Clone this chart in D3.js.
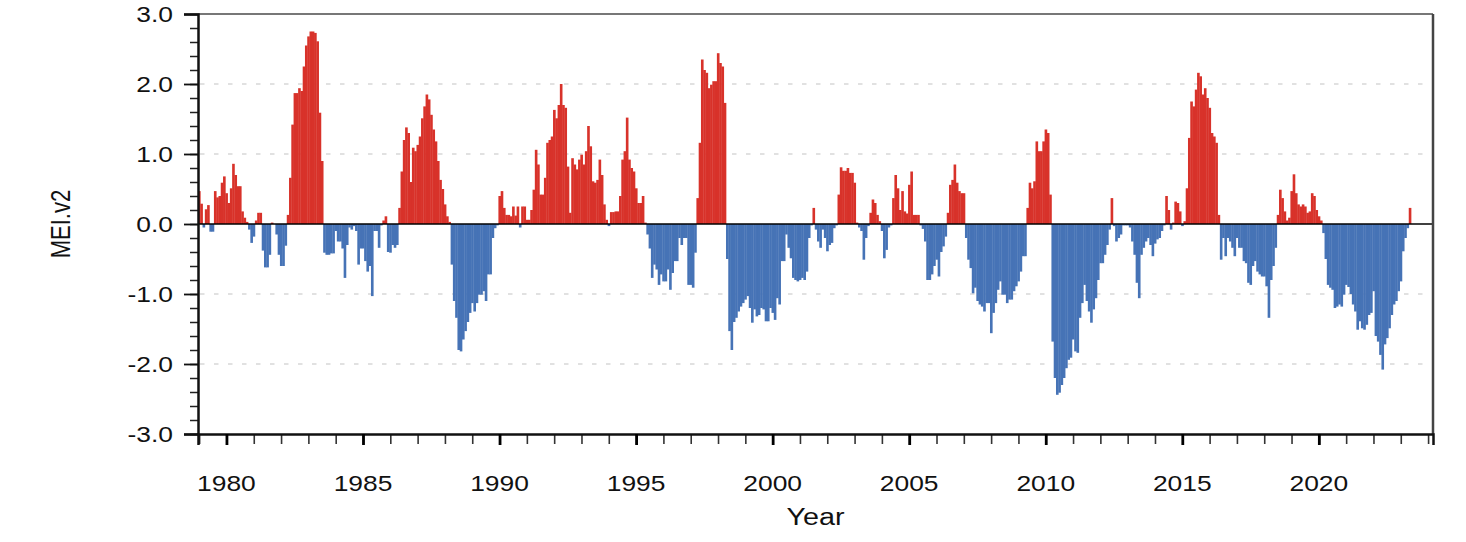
<!DOCTYPE html>
<html><head><meta charset="utf-8">
<script src="https://cdn.jsdelivr.net/npm/d3@7"></script>
<style>
body{margin:0;background:#fff;}
text{font-family:"Liberation Sans", Arial, Helvetica, sans-serif;}
</style>
</head><body>
<svg id="chart" width="1466" height="542"></svg>
<script>
// Monthly MEI.v2 values (bimonthly index, one value per month starting Jan 1979)
const startYear = 1979;
const mei1979to1988 = [
  0.47, 0.29,-0.05, 0.21, 0.27,-0.11,-0.11, 0.47, 0.38, 0.40, 0.59, 0.68,
  0.44, 0.30, 0.51, 0.86, 0.70, 0.54, 0.54, 0.18, 0.09, 0.03,-0.08,-0.27,
 -0.18, 0.05, 0.16, 0.16,-0.38,-0.62,-0.62,-0.44, 0.02, 0.00,-0.15,-0.44,
 -0.60,-0.60,-0.31, 0.13, 0.66, 1.42, 1.87, 1.87, 1.94, 1.90, 2.25, 2.55,
  2.68, 2.75, 2.75, 2.73, 2.61, 1.59, 0.90,-0.41,-0.44,-0.44,-0.42,-0.42,
 -0.10,-0.25,-0.25,-0.35,-0.77,-0.30,-0.05,-0.08,-0.03,-0.10,-0.58,-0.35,
 -0.35,-0.53,-0.68,-0.60,-1.03,-0.10,-0.10,-0.34,-0.02, 0.05, 0.11,-0.40,
 -0.41,-0.30,-0.34,-0.30, 0.23, 0.75, 1.20, 1.38, 1.30, 0.60, 1.09, 1.04,
  1.13, 1.25, 1.51, 1.68, 1.85, 1.78, 1.56, 1.35, 1.18, 0.90, 0.63, 0.50,
  0.28, 0.11, 0.03,-0.58,-1.10,-1.34,-1.80,-1.82,-1.65,-1.53,-1.40,-1.27
];
const mei1989to1998 = [
 -1.13,-1.25,-1.13,-1.01,-1.01,-0.96,-1.10,-0.72,-0.72,-0.20,-0.06,-0.02,
  0.40, 0.47, 0.23, 0.13, 0.13, 0.11, 0.25, 0.12, 0.25,-0.05, 0.25, 0.25,
  0.06, 0.06, 0.20, 0.49, 1.06, 0.85, 0.42, 0.42, 0.66, 1.16, 1.20, 1.25,
  1.63, 1.51, 1.70, 2.00, 1.70, 1.66, 0.82, 0.16, 0.94, 0.85, 0.78, 0.92,
  0.99, 0.85, 1.04, 1.40, 1.11, 0.61, 0.59, 0.63, 0.92, 0.70, 0.28, 0.06,
 -0.03, 0.17, 0.17, 0.18, 0.18, 0.40, 0.92, 1.04, 1.52, 0.92, 0.80, 0.75,
  0.51, 0.30, 0.30, 0.40, 0.02,-0.15,-0.35,-0.77,-0.58,-0.65,-0.87,-0.72,
 -0.82,-0.82,-0.65,-0.94,-0.70,-0.53,-0.53,-0.20,-0.30,-0.20,-0.20,-0.87,
 -0.87,-0.91,-0.41, 0.37, 1.16, 2.35, 2.20, 2.16, 1.94, 1.99, 2.04, 2.04,
  2.44, 2.30, 2.25, 1.73,-0.50,-1.53,-1.80,-1.40,-1.34,-1.25,-1.18,-1.13
];
const mei1999to2008 = [
 -1.08,-1.03,-1.20,-1.41,-1.22,-1.32,-1.30,-1.20,-1.22,-1.39,-1.39,-1.20,
 -1.27,-1.37,-1.06,-1.15,-0.53,-0.53,-0.15,-0.34,-0.49,-0.77,-0.80,-0.82,
 -0.80,-0.77,-0.80,-0.68,-0.20,-0.02, 0.23,-0.08,-0.25,-0.34,-0.08,-0.20,
 -0.39,-0.30,-0.27,-0.06,-0.02, 0.42, 0.81, 0.76, 0.76, 0.80, 0.73, 0.73,
  0.59, 0.02,-0.05,-0.10,-0.51,-0.20,-0.03, 0.16, 0.35, 0.30, 0.13, 0.04,
 -0.10,-0.49,-0.37,-0.05,-0.02, 0.37, 0.70, 0.51, 0.20, 0.47, 0.18, 0.15,
  0.56, 0.75, 0.13, 0.13, 0.13,-0.02,-0.07,-0.25,-0.80,-0.80,-0.72,-0.60,
 -0.51,-0.75,-0.40,-0.32,-0.18, 0.16, 0.56, 0.63, 0.85, 0.59, 0.47, 0.44,
  0.44,-0.20,-0.51,-0.63,-0.99,-0.91,-1.10,-1.15,-1.18,-1.25,-1.13,-1.13,
 -1.56,-1.27,-1.13,-0.94,-0.82,-1.01,-1.01,-1.13,-1.08,-1.08,-0.96,-0.89
];
const mei2009to2018 = [
 -0.82,-0.68,-0.46,-0.46, 0.23, 0.59, 0.51, 0.61, 1.18, 1.04, 1.04, 1.18,
  1.35, 1.30, 0.42,-1.68,-2.20,-2.44,-2.41,-2.30,-2.20,-2.06,-1.94,-1.91,
 -1.65,-1.82,-1.84,-1.34,-1.13,-0.87,-1.10,-1.25,-1.41,-1.22,-1.06,-0.80,
 -0.56,-0.56,-0.44,-0.30,-0.08, 0.37,-0.03,-0.25,-0.20,-0.15,-0.02,-0.02,
 -0.02,-0.05,-0.25,-0.44,-0.84,-1.06,-0.44,-0.34,-0.25,-0.20,-0.30,-0.46,
 -0.28,-0.22,-0.20,-0.10,-0.02, 0.40, 0.20,-0.08, 0.02, 0.32, 0.30, 0.18,
 -0.03, 0.04, 0.51, 1.23, 1.75, 1.68, 1.92, 2.16, 2.11, 1.85, 1.94, 1.80,
  1.66, 1.30, 1.25, 1.16, 0.13,-0.51,-0.20,-0.46,-0.20,-0.25,-0.34,-0.46,
 -0.20,-0.34,-0.34,-0.53,-0.56,-0.84,-0.87,-0.60,-0.53,-0.68,-0.72,-0.75,
 -0.75,-0.89,-1.34,-0.80,-0.60,-0.34, 0.13, 0.49, 0.37, 0.18, 0.05, 0.09
];
const mei2019to2023 = [
  0.47, 0.71, 0.44, 0.28, 0.25, 0.28, 0.25, 0.16, 0.18, 0.44, 0.40, 0.20,
  0.11, 0.05,-0.13,-0.50,-0.87,-0.91,-0.94,-1.20,-1.18,-1.15,-1.18,-1.01,
 -0.87,-0.90,-1.00,-1.15,-1.25,-1.51,-1.39,-1.49,-1.51,-1.44,-1.30,-1.27,
 -0.96,-1.60,-1.68,-1.87,-2.08,-1.72,-1.63,-1.49,-1.30,-1.15,-1.10,-0.96,
 -0.82,-0.39,-0.20,-0.06, 0.23
];
const yTickValues = [-3, -2, -1, 0, 1, 2, 3];
const yTickLabels = ["-3.0", "-2.0", "-1.0", "0.0", "1.0", "2.0", "3.0"];
const gridValues = [-2, -1, 1, 2];
const xTickYears = [1980, 1985, 1990, 1995, 2000, 2005, 2010, 2015, 2020];
const xMinorYears = d3.range(1979, 2025);
const yMinorValues = d3.range(-30, 31, 2).map(d => d / 10);

(function draw() {
  const monthly = [].concat(mei1979to1988, mei1989to1998, mei1999to2008, mei2009to2018, mei2019to2023);
  const data = monthly.map((v, i) => ({ t: startYear + i / 12, v }));

  const pL = 198, pR = 1433, pT = 14, pB = 434;
  const sx = 1.2; // horizontal stretch of the lettering, as in the reference
  const svg = d3.select("#chart");
  const x = d3.scaleLinear().domain([startYear - 1 / 24, 2024.18]).range([pL, pR]);
  const y = d3.scaleLinear().domain([-3, 3]).range([pB, pT]);

  // grid
  svg.append("g").selectAll("line").data(gridValues).join("line")
    .attr("x1", pL + 2).attr("x2", pR - 2)
    .attr("y1", d => y(d)).attr("y2", d => y(d))
    .attr("stroke", "#c4c4c4").attr("stroke-width", 1.2)
    .attr("stroke-dasharray", "4.5,9.5");

  // bars
  const bw = x(startYear + 1 / 12) - x(startYear);
  svg.append("g").selectAll("rect").data(data).join("rect")
    .attr("x", d => x(d.t - 1 / 24))
    .attr("width", bw + 0.35)
    .attr("y", d => d.v >= 0 ? y(d.v) : y(0))
    .attr("height", d => Math.abs(y(d.v) - y(0)))
    .attr("fill", d => d.v >= 0 ? "#d8322a" : "#4673b6");

  // zero line
  svg.append("line").attr("x1", pL).attr("x2", pR)
    .attr("y1", y(0)).attr("y2", y(0)).attr("stroke", "#000").attr("stroke-width", 1.6);

  // frame
  svg.append("line").attr("x1", pL).attr("x2", pR).attr("y1", pT).attr("y2", pT)
    .attr("stroke", "#777").attr("stroke-width", 2);
  svg.append("line").attr("x1", pR).attr("x2", pR).attr("y1", pT).attr("y2", pB)
    .attr("stroke", "#444").attr("stroke-width", 2.5);

  // y axis minor ticks
  const yMinor = svg.append("g").attr("transform", `translate(${pL},0)`)
    .call(d3.axisLeft(y).tickValues(yMinorValues).tickSize(8).tickFormat(""));
  yMinor.select(".domain").remove();
  yMinor.selectAll("line").attr("stroke", "#222").attr("stroke-width", 1.5);

  // y axis major
  const yAx = svg.append("g").attr("transform", `translate(${pL},0)`)
    .call(d3.axisLeft(y).tickValues(yTickValues).tickSize(14).tickFormat(""));
  yAx.select(".domain").attr("stroke", "#111").attr("stroke-width", 2.5);
  yAx.selectAll("line").attr("stroke", "#111").attr("stroke-width", 1.8);

  // y tick labels
  svg.append("g").selectAll("text").data(yTickValues).join("text")
    .attr("transform", d => `translate(173,${y(d)}) scale(${sx},1)`)
    .attr("dy", "0.36em").attr("text-anchor", "end")
    .attr("font-size", 22).attr("fill", "#111")
    .text((d, i) => yTickLabels[i]);

  // x axis minor ticks
  const xMinor = svg.append("g").attr("transform", `translate(0,${pB})`)
    .call(d3.axisBottom(x).tickValues(xMinorYears).tickSize(10).tickFormat(""));
  xMinor.select(".domain").remove();
  xMinor.selectAll("line").attr("stroke", "#333").attr("stroke-width", 1.6);

  // x axis major
  const xAx = svg.append("g").attr("transform", `translate(0,${pB})`)
    .call(d3.axisBottom(x).tickValues(xTickYears).tickSize(11).tickFormat(""));
  xAx.select(".domain").attr("stroke", "#111").attr("stroke-width", 2.5);
  xAx.selectAll("line").attr("stroke", "#000").attr("stroke-width", 2.8);

  // x tick labels
  svg.append("g").selectAll("text").data(xTickYears).join("text")
    .attr("transform", d => `translate(${x(d)},491) scale(${sx},1)`)
    .attr("text-anchor", "middle")
    .attr("font-size", 22).attr("fill", "#111")
    .text(d => d3.format("d")(d));

  // axis titles
  svg.append("text").attr("transform", `translate(${(pL + pR) / 2},525) scale(${sx + 0.05},1)`)
    .attr("text-anchor", "middle").attr("font-size", 23).attr("fill", "#111").text("Year");
  svg.append("text").attr("transform", `translate(70,${y(0)}) scale(${sx + 0.05},1) rotate(-90)`)
    .attr("text-anchor", "middle").attr("font-size", 22).attr("fill", "#111").text("MEI.v2");
})();
</script>
</body></html>
